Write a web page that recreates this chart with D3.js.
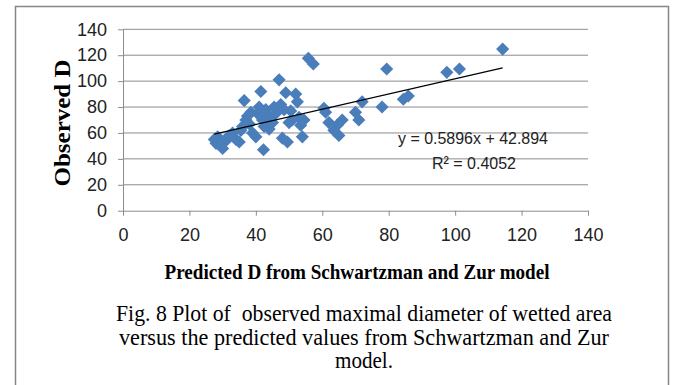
<!DOCTYPE html>
<html>
<head>
<meta charset="utf-8">
<script src="https://cdn.jsdelivr.net/npm/d3@7"></script>
<style>
  body { margin: 0; background: #fff; }
  .tick text { font-family: "Liberation Sans Narrow", "Liberation Sans", sans-serif; font-size: 18px; fill: #222; }
</style>
</head>
<body>
<div id="chart"></div>
<script>
// predicted D (x) and observed D (y)
var predicted = [27.5, 28, 28.5, 30, 31, 32, 33, 34, 35, 35.5, 36, 36.5, 37, 37.5, 38, 38.5, 39, 40, 40.5, 41, 41.5,
                 42, 42.3, 42.5, 43, 43.5, 44, 44.5, 45, 45.5, 46, 47, 47.5, 48, 48.5, 49, 49.5, 50, 50.5, 51, 52, 52.5, 53, 53.5,
                 54, 54.5, 55.8, 57.3, 60.5, 61, 62, 63.5, 64.5, 65, 66, 70, 71, 72, 78, 79.4, 84.4, 85.9, 97.5, 101.3, 114.3];
var observed  = [55, 52, 57, 48, 54, 58, 60, 55, 53, 62, 65, 85, 70, 73, 67, 76, 60, 57, 75, 80, 92,
                 70, 47, 65, 78, 74, 63, 72, 68, 80, 75, 101, 82, 56, 78, 91, 53, 68, 77, 70, 90, 84, 72, 66,
                 57, 70, 117.6, 113.2, 79, 76, 68, 62, 66, 58, 70, 76, 70, 84, 80, 109.4, 86, 88.5, 106.8, 109.4, 124.7];
var xTicks = [0, 20, 40, 60, 80, 100, 120, 140];
var yTicks = [0, 20, 40, 60, 80, 100, 120, 140];
var slope = 0.5896, intercept = 42.894;
var eqLabel = "y = 0.5896x + 42.894";
var r2Label = "R² = 0.4052";
var xTitle = "Predicted D from Schwartzman and Zur model";
var yTitle = "Observed D";
var caption = ["Fig. 8 Plot of  observed maximal diameter of wetted area",
               "versus the predicted values from Schwartzman and Zur",
               "model."];

var W = 673, H = 385;
var margin = {top: 29.3, right: 85, bottom: 174.3, left: 123};
var width = W - margin.left - margin.right,
    height = H - margin.top - margin.bottom;

var svg = d3.select("#chart").append("svg")
            .attr("width", W)
            .attr("height", H);

svg.append("rect")
   .attr("x", 15.5).attr("y", 6.5)
   .attr("width", 653).attr("height", 400)
   .attr("fill", "#fff")
   .attr("stroke", "#868686")
   .attr("stroke-width", 1.5);

var chart = svg.append("g")
               .attr("transform", "translate(" + margin.left + "," + margin.top + ")");

var x = d3.scaleLinear().domain([0, 140]).range([0, width]);
var y = d3.scaleLinear().domain([0, 140]).range([height, 0]);

// gridlines
chart.selectAll("line.grid")
     .data(yTicks.filter(function(d) { return d > 0; }))
     .enter()
     .append("line")
     .attr("class", "grid")
     .attr("x1", 0).attr("x2", width)
     .attr("y1", function(d) { return y(d); })
     .attr("y2", function(d) { return y(d); })
     .attr("stroke", "#8c8c8c")
     .attr("stroke-width", 1);

var yAxis = d3.axisLeft(y).tickValues(yTicks).tickSize(5).tickPadding(11).tickSizeOuter(0);
var xAxis = d3.axisBottom(x).tickValues(xTicks).tickSize(5).tickPadding(13).tickSizeOuter(0);

chart.append("g")
     .attr("class", "y axis")
     .call(yAxis);
chart.append("g")
     .attr("class", "x axis")
     .attr("transform", "translate(0," + height + ")")
     .call(xAxis);

chart.selectAll(".axis path, .axis line").attr("stroke", "#8c8c8c");

// points
var pts = predicted.map(function(d, i) { return [d, observed[i]]; });
chart.selectAll("path.pt")
     .data(pts)
     .enter()
     .append("path")
     .attr("class", "pt")
     .attr("d", d3.symbol().type(d3.symbolDiamond2).size(110))
     .attr("transform", function(d) { return "translate(" + x(d[0]) + "," + y(d[1]) + ")"; })
     .attr("fill", "#4a7ebb");

// trend line
var xmin = d3.min(predicted), xmax = d3.max(predicted);
chart.append("line")
     .attr("x1", x(xmin)).attr("y1", y(slope * xmin + intercept))
     .attr("x2", x(xmax)).attr("y2", y(slope * xmax + intercept))
     .attr("stroke", "#000")
     .attr("stroke-width", 1.2);

svg.append("text")
   .attr("x", 398).attr("y", 144)
   .attr("textLength", 150).attr("lengthAdjust", "spacingAndGlyphs")
   .style("font-family", "Liberation Sans Narrow, Liberation Sans, sans-serif")
   .style("font-size", "17px")
   .attr("fill", "#222")
   .text(eqLabel);
svg.append("text")
   .attr("x", 432).attr("y", 169)
   .attr("textLength", 84).attr("lengthAdjust", "spacingAndGlyphs")
   .style("font-family", "Liberation Sans Narrow, Liberation Sans, sans-serif")
   .style("font-size", "17px")
   .attr("fill", "#222")
   .text(r2Label);

// axis titles
svg.append("text")
   .attr("x", 357).attr("y", 279)
   .attr("text-anchor", "middle")
   .attr("textLength", 385).attr("lengthAdjust", "spacingAndGlyphs")
   .style("font-family", "Liberation Serif, serif")
   .style("font-weight", "bold")
   .style("font-size", "21px")
   .text(xTitle);

svg.append("text")
   .attr("transform", "translate(70,123) rotate(-90)")
   .attr("text-anchor", "middle")
   .attr("textLength", 127).attr("lengthAdjust", "spacingAndGlyphs")
   .style("font-family", "Liberation Serif, serif")
   .style("font-weight", "bold")
   .style("font-size", "24px")
   .text(yTitle);

// caption
var capW = [496, 490, 58];
svg.selectAll("text.cap")
   .data(caption)
   .enter()
   .append("text")
   .attr("class", "cap")
   .attr("x", 364)
   .attr("y", function(d, i) { return 321 + i * 23.5; })
   .attr("text-anchor", "middle")
   .attr("textLength", function(d, i) { return capW[i]; })
   .attr("lengthAdjust", "spacingAndGlyphs")
   .style("white-space", "pre")
   .style("font-family", "Liberation Serif, serif")
   .style("font-size", "23.5px")
   .text(function(d) { return d; });
</script>
</body>
</html>
